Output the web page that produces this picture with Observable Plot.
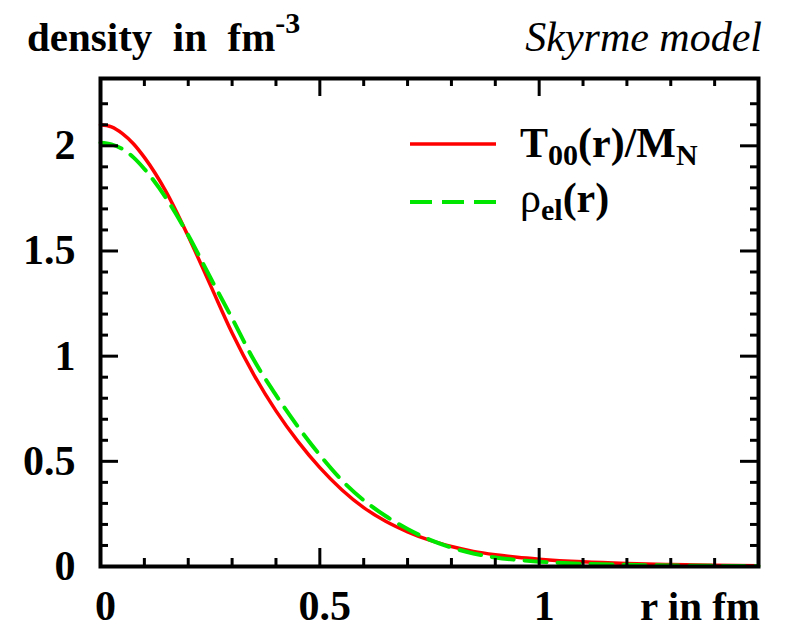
<!DOCTYPE html>
<html><head><meta charset="utf-8">
<script src="https://cdn.jsdelivr.net/npm/d3@7"></script>
<script src="https://cdn.jsdelivr.net/npm/@observablehq/plot@0.6"></script>
<style>
body{margin:0;background:#fff;}
#wrap{position:relative;width:792px;height:628px;}
#wrap svg{position:absolute;left:0;top:0;}
</style></head><body>
<div id="wrap"></div>
<script>
// radius in fm
const r      = [0, 0.025, 0.05, 0.075, 0.1, 0.15, 0.2, 0.25, 0.3, 0.35, 0.4, 0.45, 0.5, 0.55, 0.6, 0.65, 0.7, 0.75, 0.8, 0.85, 0.9, 0.95, 1.0, 1.1, 1.2, 1.3, 1.4, 1.5];
// T00(r)/M_N in fm^-3
const t00    = [2.10, 2.09, 2.058, 2.01, 1.945, 1.78, 1.57, 1.34, 1.11, 0.91, 0.74, 0.595, 0.47, 0.365, 0.28, 0.215, 0.165, 0.125, 0.095, 0.072, 0.056, 0.044, 0.035, 0.022, 0.014, 0.009, 0.006, 0.004];
// rho_el(r) in fm^-3
const rhoEl  = [2.015, 2.007, 1.985, 1.945, 1.89, 1.75, 1.575, 1.375, 1.18, 0.98, 0.815, 0.665, 0.53, 0.41, 0.315, 0.24, 0.178, 0.128, 0.09, 0.062, 0.043, 0.031, 0.023, 0.013, 0.008, 0.005, 0.003, 0.002];

const xLabelTicks = [0, 0.5, 1];
const yLabelTicks = [0, 0.5, 1, 1.5, 2];
const xMajor = [0.5, 1];
const xMinor = [0.1, 0.2, 0.3, 0.4, 0.6, 0.7, 0.8, 0.9, 1.1, 1.2, 1.3, 1.4];
const yMajor = [0.5, 1, 1.5, 2];
const yMinor = [0.1, 0.2, 0.3, 0.4, 0.6, 0.7, 0.8, 0.9, 1.1, 1.2, 1.3, 1.4, 1.6, 1.7, 1.8, 1.9, 2.1, 2.2];

const data = r.map((d, i) => ({r: d, t: t00[i], e: rhoEl[i]}));
const fmtNum = d => String(d);

const W = 792, H = 628, ML = 100, MR = 34, MT = 78, MB = 62;
const FW = W - ML - MR, FH = H - MT - MB;
const MAJ = 18, MIN = 8;
const tk = {stroke: "#000", strokeWidth: 3};

const chart = Plot.plot({
  width: W, height: H,
  marginLeft: ML, marginRight: MR, marginTop: MT, marginBottom: MB,
  x: {domain: [0, 1.5]},
  y: {domain: [0, 2.32]},
  style: {fontFamily: "'Liberation Serif', serif", background: "transparent", overflow: "visible"},
  marks: [
    Plot.line(data, {x: "r", y: "t", stroke: "#ff0000", strokeWidth: 3.5, curve: "monotone-x"}),
    Plot.line(data, {x: "r", y: "e", stroke: "#00e600", strokeWidth: 4, strokeDasharray: "22,11", curve: "monotone-x"}),
    Plot.tickX(xMajor, {...tk, insetTop: FH - MAJ}),
    Plot.tickX(xMinor, {...tk, insetTop: FH - MIN}),
    Plot.tickX(xMajor, {...tk, insetBottom: FH - MAJ}),
    Plot.tickX(xMinor, {...tk, insetBottom: FH - MIN}),
    Plot.tickY(yMajor, {...tk, insetRight: FW - MAJ}),
    Plot.tickY(yMinor, {...tk, insetRight: FW - MIN}),
    Plot.tickY(yMajor, {...tk, insetLeft: FW - MAJ}),
    Plot.tickY(yMinor, {...tk, insetLeft: FW - MIN}),
    Plot.axisX({anchor: "bottom", ticks: xLabelTicks, tickSize: 0, tickPadding: 24, tickFormat: fmtNum, label: null,
      fontSize: 42, fontWeight: "bold", dx: 5}),
    Plot.axisY({anchor: "left", ticks: yLabelTicks, tickSize: 0, tickPadding: 25, tickFormat: fmtNum, label: null,
      fontSize: 42, fontWeight: "bold"}),
    Plot.frame({stroke: "#000", strokeWidth: 4})
  ]
});

document.getElementById("wrap").appendChild(chart);

// titles, axis name and legend, drawn inside the same SVG
const svg = d3.select(chart);
const ff = "'Liberation Serif', serif";
function txt(x, y, anchor, size, weight, style) {
  return svg.append("text").attr("x", x).attr("y", y).attr("text-anchor", anchor)
    .attr("font-family", ff).attr("font-size", size).attr("font-weight", weight)
    .attr("font-style", style).attr("fill", "#000").style("white-space", "pre");
}
const title = txt(27, 51, "start", 41, "bold", "normal");
title.append("tspan").text("density  in  fm");
title.append("tspan").attr("font-size", 30).attr("dy", -18).text("-3");

txt(762, 51, "end", 42, "normal", "italic").text("Skyrme model");
txt(760, 620, "end", 41, "bold", "normal").text("r in fm");

svg.append("line").attr("x1", 410).attr("x2", 496).attr("y1", 144).attr("y2", 144)
  .attr("stroke", "#ff0000").attr("stroke-width", 3.5);
svg.append("line").attr("x1", 410).attr("x2", 496).attr("y1", 202).attr("y2", 202)
  .attr("stroke", "#00e600").attr("stroke-width", 4).attr("stroke-dasharray", "22,10");

const l1 = txt(520, 157, "start", 42, "bold", "normal");
l1.append("tspan").text("T");
l1.append("tspan").attr("font-size", 30).attr("dy", 8).text("00");
l1.append("tspan").attr("dy", -8).text("(r)/M");
l1.append("tspan").attr("font-size", 30).attr("dy", 8).text("N");

const l2 = txt(520, 212, "start", 42, "bold", "normal");
l2.append("tspan").attr("font-weight", "normal").text("ρ");
l2.append("tspan").attr("font-size", 30).attr("dy", 8).text("el");
l2.append("tspan").attr("dy", -8).text("(r)");
</script>
</body></html>
